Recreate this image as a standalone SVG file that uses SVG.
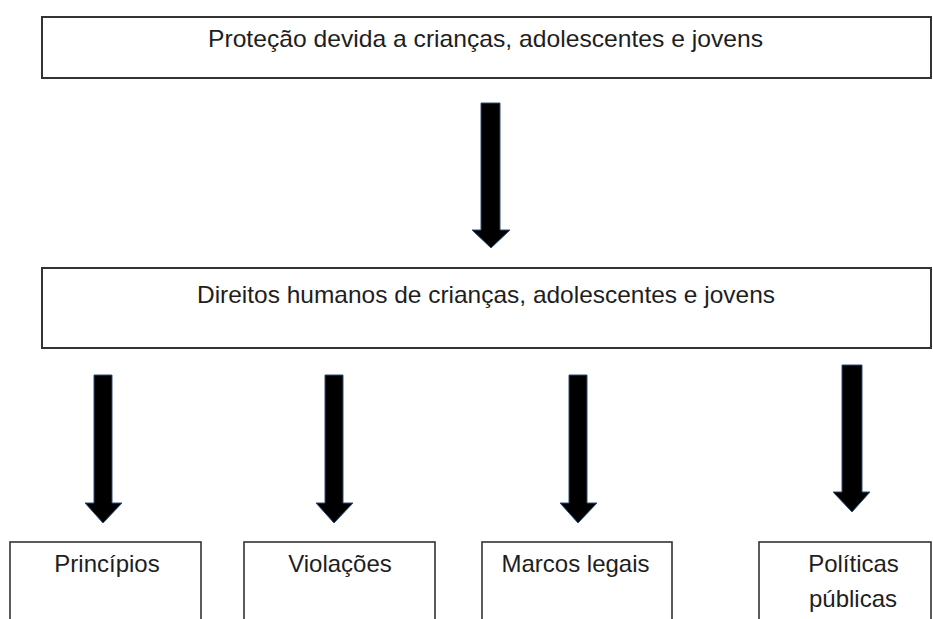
<svg xmlns="http://www.w3.org/2000/svg" width="933" height="619" viewBox="0 0 933 619">
<style>
.box{fill:#ffffff;stroke:#333333;stroke-width:2}
.sbox{fill:#ffffff;stroke:#333333;stroke-width:1.6}
.t{font-family:"Liberation Sans",Arial,sans-serif;font-size:24px;fill:#1e1e1e;text-anchor:middle}
.arr{fill:#000000;stroke:#2d4f78;stroke-width:1;stroke-linejoin:miter}
</style>
<rect width="933" height="619" fill="#ffffff"/>
<g id="connectors">
<polygon class="arr" points="481,103 500,103 500,230 510,230 491,248 472,230 481,230"/>
<polygon class="arr" points="94,375 112,375 112,503 122,503 103,523 85,503 94,503"/>
<polygon class="arr" points="325,375 343,375 343,503 353,503 334,523 316,503 325,503"/>
<polygon class="arr" points="569,375 587,375 587,503 597,503 578,523 560,503 569,503"/>
<polygon class="arr" points="842,365 862,365 862,492 870,492 852,512 833,492 842,492"/>
</g>
<g id="n1">
<rect class="box" x="42" y="17" width="889" height="61"/>
<text class="t" x="485.5" y="47" textLength="555" lengthAdjust="spacingAndGlyphs">Proteção devida a crianças, adolescentes e jovens</text>
</g>
<g id="n2">
<rect class="box" x="42" y="268" width="889" height="80"/>
<text class="t" x="486" y="303" textLength="578" lengthAdjust="spacingAndGlyphs">Direitos humanos de crianças, adolescentes e jovens</text>
</g>
<g id="n3">
<rect class="sbox" x="10" y="542" width="191" height="90"/>
<text class="t" x="107" y="572">Princípios</text>
</g>
<g id="n4">
<rect class="sbox" x="244" y="542" width="191" height="90"/>
<text class="t" x="340" y="572">Violações</text>
</g>
<g id="n5">
<rect class="sbox" x="482" y="542" width="190" height="90"/>
<text class="t" x="575.5" y="572">Marcos legais</text>
</g>
<g id="n6">
<rect class="sbox" x="759" y="542" width="172" height="90"/>
<text class="t" x="853.5" y="572">Políticas</text>
<text class="t" x="853" y="607">públicas</text>
</g>
</svg>
